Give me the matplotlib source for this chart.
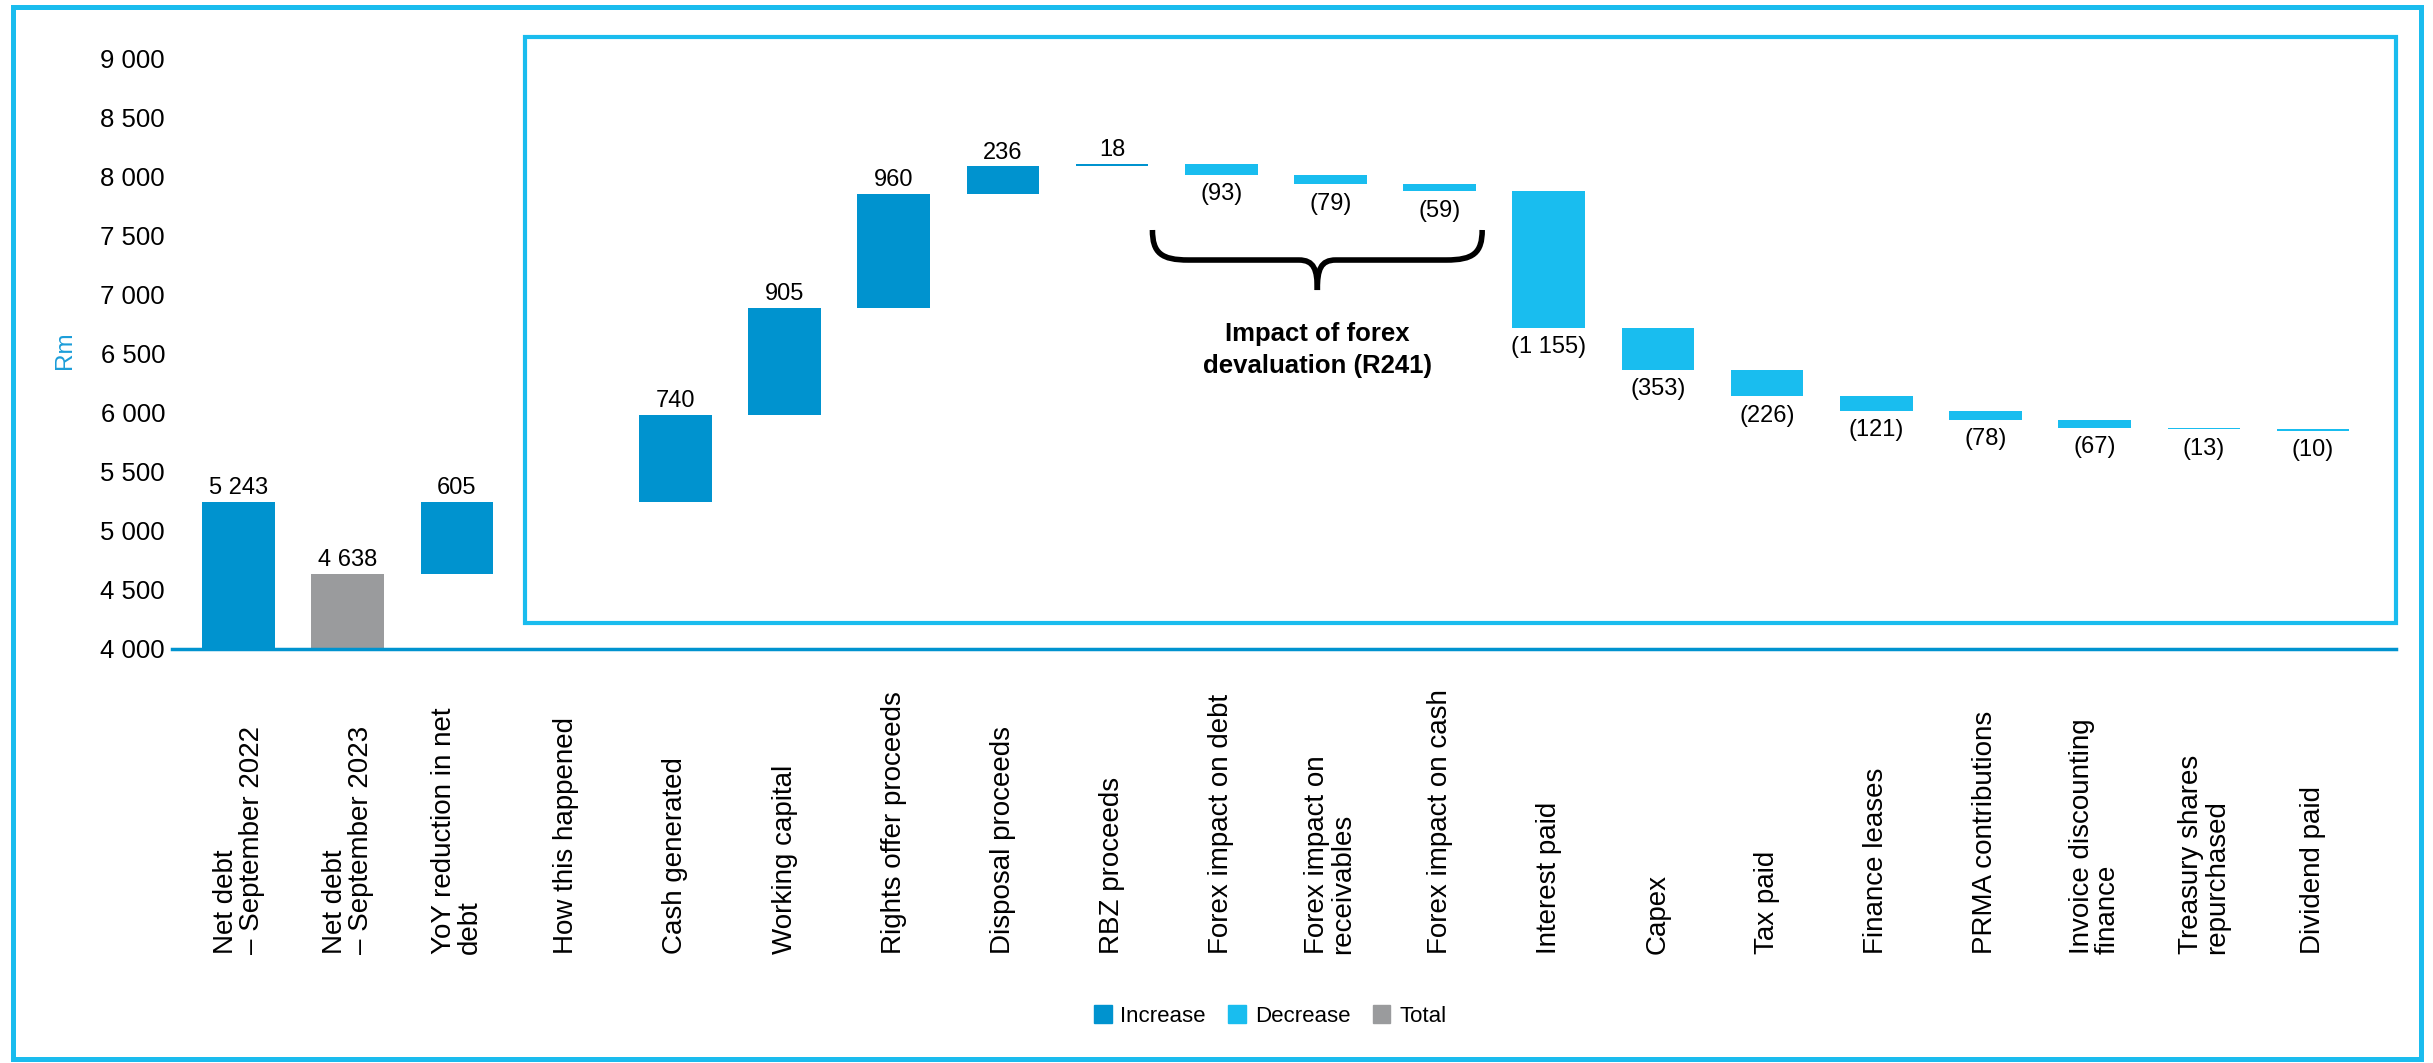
import numpy as np
import matplotlib.pyplot as plt
from matplotlib.patches import Patch, Rectangle, PathPatch
from matplotlib.path import Path

plt.rcParams['font.family'] = ['Liberation Sans', 'DejaVu Sans']

# data
categories = ["Net debt\n– September 2022", "Net debt\n– September 2023",
              "YoY reduction in net\ndebt", "How this happened",
              "Cash generated", "Working capital", "Rights offer proceeds",
              "Disposal proceeds", "RBZ proceeds", "Forex impact on debt",
              "Forex impact on\nreceivables", "Forex impact on cash",
              "Interest paid", "Capex", "Tax paid", "Finance leases",
              "PRMA contributions", "Invoice discounting\nfinance",
              "Treasury shares\nrepurchased", "Dividend paid"]
net_debt_2022 = 5243
net_debt_2023 = 4638
yoy_reduction = 605
movements = [740, 905, 960, 236, 18, -93, -79, -59,
             -1155, -353, -226, -121, -78, -67, -13, -10]
yticks = [4000, 4500, 5000, 5500, 6000, 6500, 7000, 7500, 8000, 8500, 9000]

c_inc = '#0093CF'
c_dec = '#19BDEF'
c_tot = '#9A9B9D'
c_frame = '#1ABCEE'

def fmt(v):
    s = f"{abs(v):,}".replace(',', ' ')
    return f"({s})" if v < 0 else s

#build waterfall
bottoms = [0, 0, net_debt_2023, 0]
heights = [net_debt_2022, net_debt_2023, yoy_reduction, 0]
colors = [c_inc, c_tot, c_inc, c_inc]
labels = [fmt(net_debt_2022), fmt(net_debt_2023), fmt(yoy_reduction), '']
signs = [1, 1, 1, 0]
level = net_debt_2022
for v in movements:
    if v > 0:
        bottoms.append(level); heights.append(v); colors.append(c_inc)
    else:
        bottoms.append(level + v); heights.append(-v); colors.append(c_dec)
    labels.append(fmt(v))
    signs.append(1 if v > 0 else -1)
    level += v

x = np.arange(len(categories))

fig = plt.figure(figsize=(24.33, 10.63), dpi=100)
ax = fig.add_axes([0.0707, 0.3895, 0.9141, 0.5559])
ax.bar(x, heights, bottom=bottoms, width=0.665, color=colors)

for i in range(len(x)):
    if signs[i] > 0:
        ax.annotate(labels[i], (x[i], bottoms[i] + heights[i]), xytext=(0, 2),
                    textcoords='offset points', ha='center', va='bottom', fontsize=17)
    elif signs[i] < 0:
        ax.annotate(labels[i], (x[i], bottoms[i]), xytext=(0, -6),
                    textcoords='offset points', ha='center', va='top', fontsize=17)

ax.set_xlim(-0.61, 19.76)
ax.set_ylim(4000, 9000)
ax.set_yticks(yticks)
ax.set_yticklabels([fmt(t) for t in yticks])
ax.set_xticks([])
ax.tick_params(axis='y', length=0, pad=5, labelsize=18.5)
for s in ['top', 'right', 'left']:
    ax.spines[s].set_visible(False)
ax.spines['bottom'].set_color(c_inc)
ax.spines['bottom'].set_linewidth(2.5)

# category labels, anchored at their start
for i, lab in enumerate(categories):
    ax.text(x[i], -0.516, lab, transform=ax.get_xaxis_transform(), rotation=90,
            rotation_mode='anchor', ha='left', va='center', fontsize=20,
            linespacing=1.0, multialignment='left')

# brace over the forex items
x0, x1, ytop, ymid, ytip = 8.37, 11.39, 7545, 7291, 7037
c = (x0 + x1) / 2
def half(sgn):
    return [(c - sgn * (c - x0), ytop), (c - sgn * (c - x0), ymid + 60),
            (c - sgn * (c - x0 - 0.08), ymid), (c - sgn * (c - x0 - 0.33), ymid),
            (c - sgn * 0.17, ymid),
            (c - sgn * 0.03, ymid), (c, ymid - 80), (c, ytip)]
codes = [Path.MOVETO, Path.CURVE4, Path.CURVE4, Path.CURVE4, Path.LINETO,
         Path.CURVE4, Path.CURVE4, Path.CURVE4]
for sgn in [1, -1]:
    ax.add_patch(PathPatch(Path(half(sgn), codes), fill=False, lw=4,
                           ec='black', capstyle='butt', joinstyle='round'))
ax.text(c, 6530, "Impact of forex\ndevaluation (R241)", ha='center', va='center',
        fontsize=18.5, fontweight='bold', linespacing=1.4)

fig.text(65 / 2433, 1 - 350 / 1063, 'Rm', rotation=90, color='#1B9DD9',
         ha='center', va='center', fontsize=17.5)

# frames
fig.add_artist(Rectangle((13 / 2433, 4 / 1063), (2421 - 13) / 2433, (1059 - 7) / 1063,
                         transform=fig.transFigure, fill=False, ec=c_frame, lw=3.6))
fig.add_artist(Rectangle((525 / 2433, 1 - 623 / 1063), (2396 - 525) / 2433, (623 - 37) / 1063,
                         transform=fig.transFigure, fill=False, ec=c_frame, lw=3))

handles = [Patch(color=c_inc), Patch(color=c_dec), Patch(color=c_tot)]
fig.legend(handles, ['Increase', 'Decrease', 'Total'], loc='center',
           bbox_to_anchor=(0.522, 0.044), ncol=3, frameon=False, fontsize=16,
           handlelength=0.8, handleheight=0.85, handletextpad=0.4, columnspacing=1.0)

plt.savefig('out.png', dpi=100)
